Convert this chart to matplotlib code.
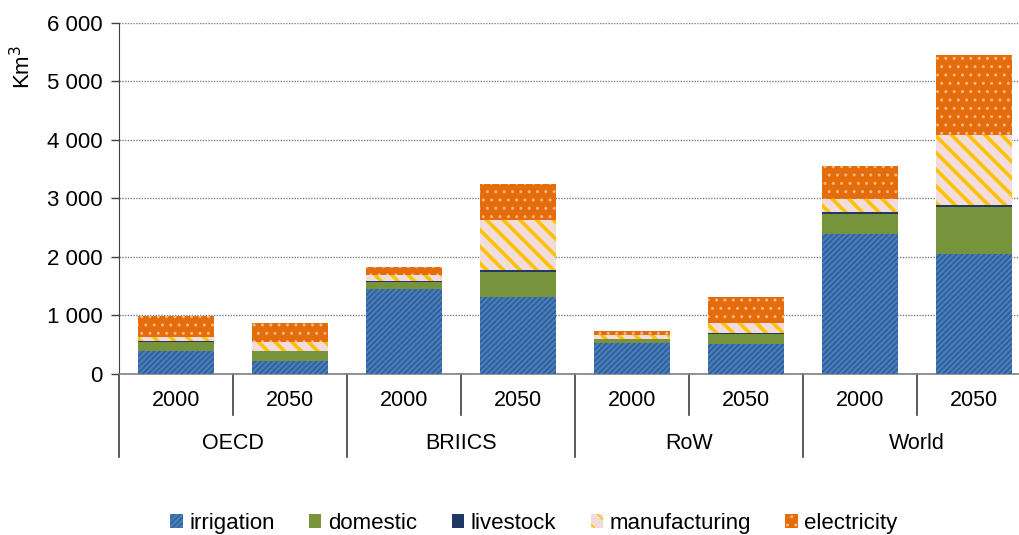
import numpy as np
import matplotlib
matplotlib.use("Agg")
import matplotlib.pyplot as plt
from matplotlib.patches import Patch
from matplotlib.ticker import FuncFormatter

plt.rcParams['font.family'] = ['Liberation Sans', 'DejaVu Sans']

# Water demand by use, km3
regions = ['OECD', 'BRIICS', 'RoW', 'World']
years = ['2000', '2050']
uses = ['irrigation', 'domestic', 'livestock', 'manufacturing', 'electricity']

irrigation = [393, 222, 1447, 1316, 524, 507, 2387, 2046]
domestic = [159, 171, 131, 433, 74, 177, 342, 803]
livestock = [18, 5, 12, 23, 7, 16, 34, 40]
manufacturing = [68, 146, 97, 860, 62, 177, 228, 1191]
electricity = [352, 325, 137, 616, 68, 439, 559, 1373]

series = [irrigation, domestic, livestock, manufacturing, electricity]
faces = ['#4a7ebb', '#77933c', '#1f3864', '#f2dcdb', '#e46c0a']
hatch_colors = ['#2f5d98', '#77933c', '#1f3864', '#ffc000', '#f8b584']
hatches = ['//////', None, None, '\\\\', '..']
hatch_widths = [1.2, 1.0, 1.0, 2.6, 1.0]

fig = plt.figure(figsize=(10.19, 5.35), dpi=100)
ax = fig.add_axes([0.1168, 0.301, 0.895, 0.656])

x = np.arange(len(irrigation))
bottom = np.zeros(len(x))
handles = []
for vals, fc, hc, h, hw, name in zip(series, faces, hatch_colors, hatches, hatch_widths, uses):
    with plt.rc_context({'hatch.linewidth': hw}):
        ax.bar(x, vals, 0.667, bottom=bottom, color=fc, edgecolor=hc,
               hatch=h, linewidth=0, zorder=3)
        handles.append(Patch(facecolor=fc, edgecolor=hc, hatch=h, linewidth=0, label=name))
    bottom += np.array(vals)

ax.set_xlim(-0.5, len(x) - 0.5)
ax.set_ylim(0, 6000)
ax.set_yticks(np.arange(0, 6001, 1000))
ax.yaxis.set_major_formatter(FuncFormatter(lambda v, p: f'{int(v):,}'.replace(',', ' ')))
ax.yaxis.grid(True, linestyle=(0, (1, 1)), color='#7f7f7f', linewidth=1.0, zorder=0)
ax.tick_params(axis='y', direction='out', length=6, width=1, color='#404040',
               labelsize=16, pad=6)
ax.tick_params(axis='x', length=0, labelbottom=False)

for s in ['top', 'right']:
    ax.spines[s].set_visible(False)
ax.spines['left'].set_color('#404040')
ax.spines['bottom'].set_color('#808080')
ax.spines['bottom'].set_linewidth(1.2)

# two-level category axis
trans = ax.get_xaxis_transform()
for i, xi in enumerate(x):
    ax.text(xi, -0.077, years[i % 2], transform=trans, ha='center', va='center',
            fontsize=15.5)
for g, name in enumerate(regions):
    ax.text(2 * g + 0.5, -0.197, name, transform=trans, ha='center', va='center',
            fontsize=15.5)
    ax.plot([2 * g - 0.5] * 2, [0, -0.236], transform=trans, color='#404040',
            linewidth=1.2, clip_on=False)
    ax.plot([2 * g + 0.5] * 2, [0, -0.117], transform=trans, color='#404040',
            linewidth=1.2, clip_on=False)

fig.text(0.022, 0.875, 'Km$^3$', rotation=90, ha='center', va='center', fontsize=16)

fig.legend(handles=handles, loc='center', bbox_to_anchor=(0.524, 0.022), ncol=5,
           frameon=False, fontsize=16, handlelength=0.55, handleheight=0.55,
           handletextpad=0.3, columnspacing=1.55)

fig.savefig('out.png', dpi=100)
